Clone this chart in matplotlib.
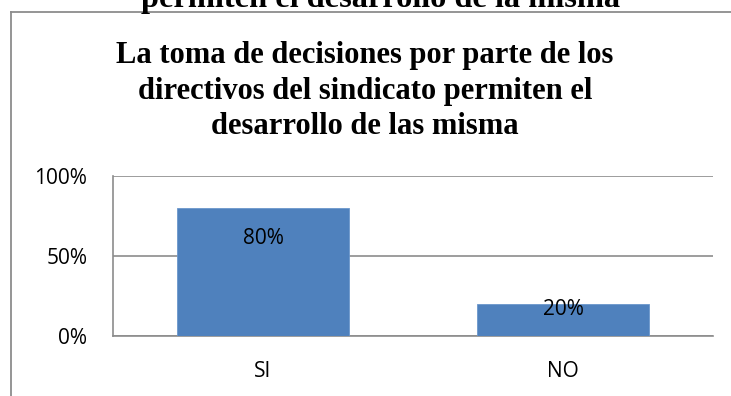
import matplotlib
matplotlib.use("Agg")
from matplotlib import pyplot as plt
from matplotlib.lines import Line2D

# data
categories = ["SI", "NO"]
values = [0.80, 0.20]
value_labels = ["80%", "20%"]
yticks = [0.0, 0.5, 1.0]
ytick_labels = ["0%", "50%", "100%"]

title = "La toma de decisiones por parte de los\ndirectivos del sindicato permiten el\ndesarrollo de las misma"
caption = "permiten el desarrollo de la misma"

W, H = 731, 396
fig = plt.figure(figsize=(W / 100, H / 100), dpi=100)
fig.patch.set_facecolor("white")

# frame of the chart object
grey = "#8c8c8c"
fig.add_artist(Line2D([11 / W, 11 / W], [0, 1 - 12 / H], color=grey, lw=1.3, transform=fig.transFigure))
fig.add_artist(Line2D([11 / W, 1], [1 - 12 / H, 1 - 12 / H], color=grey, lw=1.3, transform=fig.transFigure))

# caption from the page above, cut by the top edge
fig.text(381 / W, 1 - 7 / H, caption, ha="center", va="baseline", family="Liberation Serif",
         weight="bold", fontsize=23.3)

fig.text(365 / W, 1 - 41 / H, title, ha="center", va="top", family="Liberation Serif",
         weight="bold", fontsize=22, linespacing=1.3)

tick_font = dict(family="Open Sans", fontsize=15)

ax = fig.add_axes([113 / W, (H - 335.7) / H, 600 / W, 160 / H])
x = range(len(categories))
bars = ax.bar(x, values, width=0.573, color="#4F81BD", edgecolor="#6b97cc", linewidth=0.6, zorder=3)

ax.set_xlim(-0.5, 1.5)
ax.set_ylim(0, 1)
ax.set_yticks(yticks)
ax.set_yticklabels(ytick_labels, **tick_font)
ax.set_xticks(list(x))
ax.set_xticklabels(categories, **tick_font)
ax.tick_params(axis="y", length=0, pad=18.5)
ax.tick_params(axis="x", length=0, pad=18.5)

ax.grid(axis="y", color=grey, lw=1.2, zorder=0)
for s in ["top", "right"]:
    ax.spines[s].set_visible(False)
for s in ["left", "bottom"]:
    ax.spines[s].set_color(grey)
    ax.spines[s].set_linewidth(1.2)

label_offsets = [-22, -4]
for b, lab, off in zip(bars, value_labels, label_offsets):
    ax.annotate(lab, (b.get_x() + b.get_width() / 2, b.get_height()), xytext=(0, off),
                textcoords="offset points", ha="center", va="center", zorder=4, **tick_font)

plt.savefig("out.png", dpi=100)
